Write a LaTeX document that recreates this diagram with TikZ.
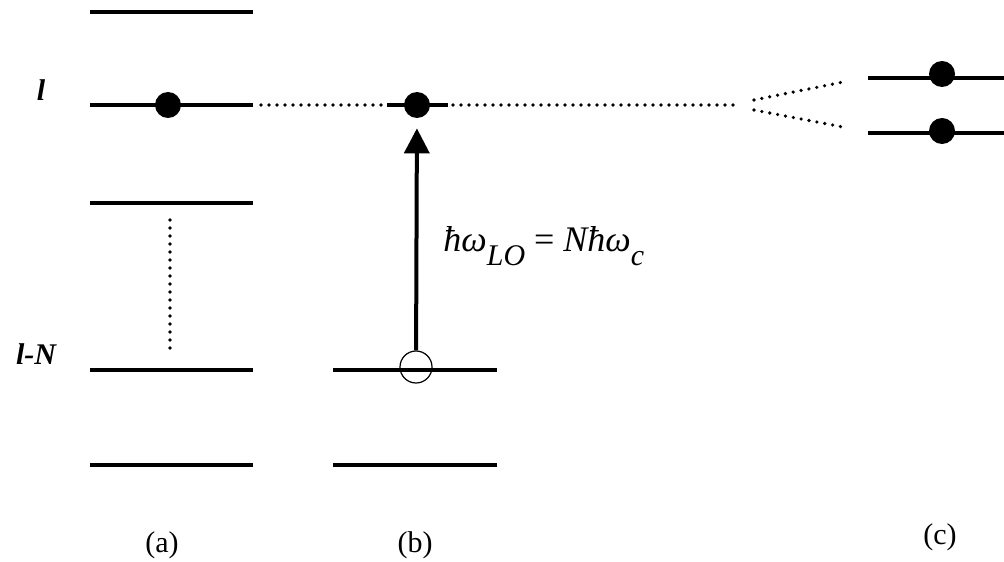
\documentclass[tikz,border=0pt]{standalone}
\usepackage{fontspec}
\setmainfont{Liberation Serif}
\usetikzlibrary{arrows.meta}

\begin{document}
\begin{tikzpicture}[x=0.5pt, y=-0.5pt,
  level/.style={line width=2pt},
  elec/.style={circle, fill=black, inner sep=0pt, minimum size=13pt},
  hole/.style={circle, draw, line width=0.6pt, inner sep=0pt, minimum size=16pt},
  dots/.style={line width=1.8pt, line cap=round, dash pattern=on 0pt off 4pt},
  pump/.style={-{Triangle[length=12.5pt,width=12.5pt]}, line width=2pt, shorten >=5pt},
  lab/.style={font=\fontsize{15}{17}\selectfont, inner sep=1pt},
  lev/.style={font=\fontsize{15}{17}\selectfont\bfseries\itshape, inner sep=1pt},
]
\useasboundingbox (0,0) rectangle (1004,561);

% (a): ladder of levels
\draw[level] (90,12) -- (253,12);
\draw[level] (90,105) -- (253,105);
\draw[level] (90,203) -- (253,203);
\draw[level] (90,370) -- (253,370);
\draw[level] (90,465) -- (253,465);
\node[elec] (ea) at (168,105) {};
\draw[dots] (170,220) -- (170,350);
\node[lev] (ll) at (41,90) {l};
\node[lev] (lln) at (36,354) {l-N};

% (b): excitation by the LO phonon
\draw[level] (387,105) -- (448,105);
\draw[level] (333,370) -- (497,370);
\draw[level] (333,465) -- (497,465);
\node[elec] (eb) at (417,105) {};
\node[hole] (hb) at (416,367) {};
\draw[pump] (hb) -- (eb);
\node[font=\fontsize{18}{20}\selectfont, anchor=base west, inner sep=0pt] (fm) at (443,251)
  {\textit{ħω}\raisebox{-0.9ex}{\fontsize{15}{17}\selectfont\itshape LO} = \textit{Nħω}\raisebox{-0.9ex}{\fontsize{15}{17}\selectfont\itshape c}};

% resonance line and splitting
\coordinate (a2) at (261,105);
\coordinate (sp) at (738,105);
\coordinate (s0) at (754,100);
\coordinate (s1) at (843,82);
\coordinate (t0) at (754,110);
\coordinate (t1) at (843,127);
\draw[dots] (a2) -- (sp);
\draw[dots] (s0) -- (s1);
\draw[dots] (t0) -- (t1);

% (c): split pair
\draw[level] (868,78) -- (1004,78);
\draw[level] (868,133) -- (1004,133);
\node[elec] (c1) at (942,74) {};
\node[elec] (c2) at (942,131) {};

% panel labels
\node[lab] (la) at (162,545) {(a)};
\node[lab] (lb) at (415,545) {(b)};
\node[lab] (lc) at (940,537) {(c)};
\end{tikzpicture}
\end{document}
